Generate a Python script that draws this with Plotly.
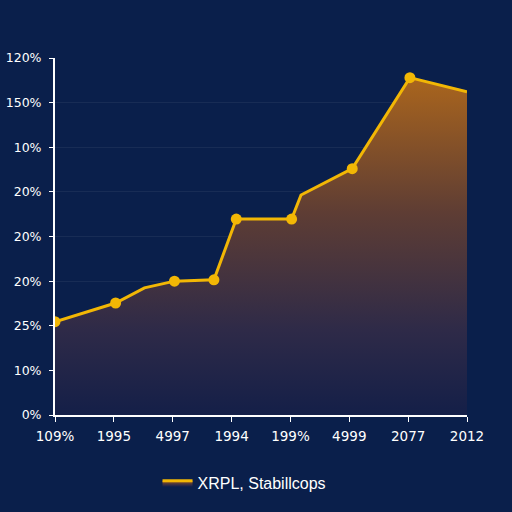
import plotly.graph_objects as go

# Data (x in category-index units, y in tick-index units)
x_vals = [0.0, 1.03, 1.52, 2.03, 2.70, 3.08, 4.02, 4.18, 5.05, 6.03, 7.0]
y_vals = [2.09, 2.51, 2.85, 3.00, 3.03, 4.39, 4.39, 4.93, 5.52, 7.56, 7.24]
has_marker = [1, 1, 0, 1, 1, 1, 1, 0, 1, 1, 0]

x_tick_labels = ["109%", "1995", "4997", "1994", "199%", "4999", "2077", "2012"]
y_tick_labels = ["0%", "10%", "25%", "20%", "20%", "20%", "10%", "150%", "120%"]
series_name = "XRPL, Stabillcops"

BG = "#0a1f4b"
GOLD = "#f2b705"

mx = [x for x, m in zip(x_vals, has_marker) if m]
my = [y for y, m in zip(y_vals, has_marker) if m]

fig = go.Figure()
fig.add_trace(go.Scatter(
    x=x_vals, y=y_vals, mode="lines", name=series_name,
    line=dict(color=GOLD, width=3),
    fill="tozeroy",
    fillgradient=dict(type="vertical",
                      colorscale=[[0, "#141f48"], [0.25, "#2e2a48"], [0.6, "#5e3d34"], [1, "#aa651d"]]),
))
fig.add_trace(go.Scatter(
    x=mx, y=my, mode="markers", showlegend=False,
    marker=dict(color=GOLD, size=11, line=dict(width=0)),
))

fig.update_layout(
    width=512, height=512,
    paper_bgcolor=BG, plot_bgcolor=BG,
    margin=dict(l=55, r=45, t=58, b=97),
    font=dict(family="DejaVu Sans", color="white", size=13),
    showlegend=True,
    legend=dict(orientation="h", x=0.46, xanchor="center", y=-0.19, yanchor="middle",
                font=dict(size=16, color="white", family="Liberation Sans"),
                bgcolor="rgba(0,0,0,0)"),
    xaxis=dict(range=[0, 7], tickvals=list(range(len(x_tick_labels))), ticktext=x_tick_labels,
               showline=True, linecolor="white", linewidth=2, ticks="outside",
               tickcolor="white", ticklen=5, showgrid=False, zeroline=False,
               tickfont=dict(size=13.5), ticklabelstandoff=3, automargin=False),
    yaxis=dict(range=[0, 8], tickvals=list(range(len(y_tick_labels))), ticktext=y_tick_labels,
               showline=True, linecolor="white", linewidth=2, ticks="outside",
               tickcolor="white", ticklen=4, showgrid=True,
               gridcolor="rgba(255,255,255,0.06)", zeroline=False,
               tickfont=dict(size=12.5), ticklabelstandoff=5, automargin=False),
)

fig.write_html("out.html")
